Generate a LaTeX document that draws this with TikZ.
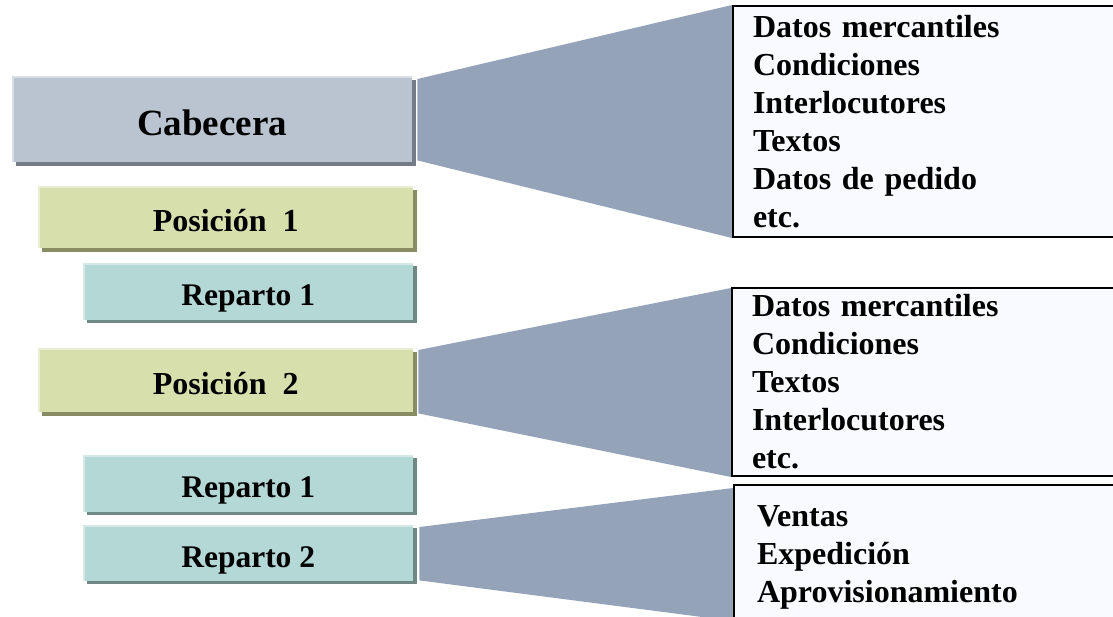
\documentclass[tikz,border=0pt]{standalone}
\usepackage{fontspec}
\setmainfont{Liberation Serif}
\usepackage{xcolor}
\usepackage{tikz}
\usetikzlibrary{calc,shadows,backgrounds}

\definecolor{cabfill}{HTML}{BAC4D0}
\definecolor{cabshade}{HTML}{737C87}
\definecolor{posfill}{HTML}{D7E0AC}
\definecolor{posshade}{HTML}{878C63}
\definecolor{repfill}{HTML}{B3D8D6}
\definecolor{repshade}{HTML}{6F8885}
\definecolor{fanfill}{HTML}{94A3B8}
\definecolor{listfill}{HTML}{F8FAFF}

\begin{document}
\begin{tikzpicture}[x=1pt,y=-1pt,
    level/.style={inner sep=0pt, anchor=north west, text depth=0pt,
        path picture={\draw[white, opacity=0.45, line width=4pt]
            (path picture bounding box.south west) -- (path picture bounding box.north west)
            -- (path picture bounding box.north east);}},
    cabbox/.style={level, fill=cabfill, minimum width=400pt, minimum height=86pt,
        font=\bfseries\fontsize{37}{44}\selectfont, text height=32pt,
        drop shadow={shadow xshift=4pt, shadow yshift=-4pt, fill=cabshade, opacity=1}},
    posbox/.style={level, fill=posfill, minimum width=375pt,
        font=\bfseries\fontsize{32}{38}\selectfont, text height=29pt,
        drop shadow={shadow xshift=4pt, shadow yshift=-4pt, fill=posshade, opacity=1}},
    repbox/.style={level, fill=repfill, minimum width=330pt,
        font=\bfseries\fontsize{31.5}{38}\selectfont, text height=28pt,
        drop shadow={shadow xshift=4pt, shadow yshift=-3pt, fill=repshade, opacity=1}},
    listbox/.style={draw=black, line width=2pt, fill=listfill, anchor=north west,
        text width=390pt, inner xsep=20pt, inner ysep=0pt, align=left,
        font=\bfseries\fontsize{32}{38}\selectfont},
    fan/.style={fill=fanfill}
]
\useasboundingbox (0,0) rectangle (1113,616);

% left side: document levels
\node[cabbox] (cab) at (12,76) {Cabecera};
\node[posbox, minimum height=62pt] (pos1) at (38,186) {Posición\ \ 1};
\node[repbox, minimum height=57pt] (rep1a) at (83,263) {Reparto 1};
\node[posbox, minimum height=64pt] (pos2) at (38,348) {Posición\ \ 2};
\node[repbox, minimum height=57pt] (rep1b) at (83,455) {Reparto 1};
\node[repbox, minimum height=56pt] (rep2) at (83,525) {Reparto 2};

% right side: contents
\node[listbox, minimum height=231pt] (cabdata) at (732,5)
    {Datos mercantiles\\Condiciones\\Interlocutores\\Textos\\Datos de pedido\\etc.};
\node[listbox, minimum height=188pt] (posdata) at (731,287)
    {Datos mercantiles\\Condiciones\\Textos\\Interlocutores\\etc.};
\node[listbox, minimum height=145pt, inner xsep=23pt] (repdata) at (733,484)
    {Ventas\\Expedición\\Aprovisionamiento};

\begin{scope}[on background layer]
\fill[fan] ($(cab.north east)+(5,3)$) -- (cabdata.north west)
    -- (cabdata.south west) -- ($(cab.south east)+(5,-2)$) -- cycle;
\fill[fan] ($(pos2.north east)+(5,2)$) -- ($(posdata.north west)+(0,1)$)
    -- (posdata.south west) -- ($(pos2.south east)+(5,1)$) -- cycle;
\fill[fan] ($(rep2.north east)+(6,2)$) -- ($(repdata.north west)+(0,4)$)
    -- ($(repdata.south west)+(0,-10)$) -- ($(rep2.south east)+(6,-1)$) -- cycle;
\end{scope}

\end{tikzpicture}
\end{document}
